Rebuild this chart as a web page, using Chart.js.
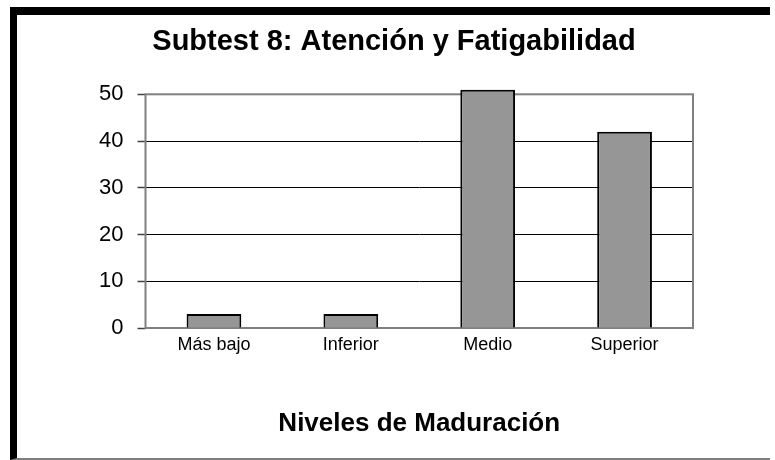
<!DOCTYPE html>
<html>
<head>
<meta charset="utf-8">
<script src="https://cdn.jsdelivr.net/npm/chart.js@4"></script>
<style>
  html, body { margin: 0; padding: 0; background: #fff; }
  #wrap {
    position: absolute; left: 10px; top: 7px;
    width: 760px; height: 453px; box-sizing: border-box;
    border-top: 8px solid #000; border-left: 7px solid #000;
    border-bottom: 2px solid #808080;
  }
  canvas { display: block; }
</style>
</head>
<body>
<div id="wrap"><canvas id="c" width="753" height="443"></canvas></div>
<script>
const categories = ['Más bajo', 'Inferior', 'Medio', 'Superior'];
const values = [3, 3, 51, 42];
const yMin = 0;
const yMax = 50;
const yStep = 10;
const chartTitle = 'Subtest 8: Atención y Fatigabilidad';
const xAxisTitle = 'Niveles de Maduración';

const FONT = "'Liberation Sans', Arial, sans-serif";

const plotBorder = {
  id: 'plotBorder',
  beforeDatasetsDraw(chart) {
    const { ctx, chartArea: a } = chart;
    ctx.save();
    ctx.strokeStyle = '#808080';
    ctx.lineWidth = 2;
    ctx.strokeRect(a.left, a.top, a.right - a.left, a.bottom - a.top);
    ctx.restore();
  }
};

new Chart(document.getElementById('c'), {
  type: 'bar',
  data: {
    labels: categories,
    datasets: [{
      data: values,
      backgroundColor: '#969696',
      borderColor: '#000000',
      borderWidth: 2,
      categoryPercentage: 1.0,
      barPercentage: 0.4,
      clip: false
    }]
  },
  plugins: [plotBorder],
  options: {
    responsive: false,
    animation: false,
    devicePixelRatio: 1,
    layout: { padding: { left: 78, right: 77, top: 0, bottom: 0 } },
    plugins: {
      legend: { display: false },
      tooltip: { enabled: false },
      title: {
        display: true,
        text: chartTitle,
        color: '#000',
        font: { family: FONT, size: 29, weight: 'bold', lineHeight: 1.2 },
        padding: { top: 9.6, bottom: 34.9 }
      }
    },
    scales: {
      x: {
        grid: { display: false, drawTicks: false },
        border: { display: false },
        ticks: {
          color: '#000',
          font: { family: FONT, size: 18 },
          padding: 6,
          maxRotation: 0
        },
        title: {
          display: true,
          text: xAxisTitle,
          color: '#000',
          font: { family: FONT, size: 26, weight: 'bold', lineHeight: 1.2 },
          padding: { top: 0, bottom: 18.7 }
        },
        afterFit(scale) { scale.height = 130; }
      },
      y: {
        min: yMin,
        max: yMax,
        grid: {
          color: '#000',
          lineWidth: 1,
          drawTicks: true,
          tickLength: 8,
          tickColor: '#404040',
          tickWidth: 1.5
        },
        border: { display: false },
        ticks: {
          stepSize: yStep,
          color: '#000',
          font: { family: FONT, size: 22 },
          padding: 14
        },
        afterFit(scale) { scale.width = 50.5; }
      }
    }
  }
});
</script>
</body>
</html>
